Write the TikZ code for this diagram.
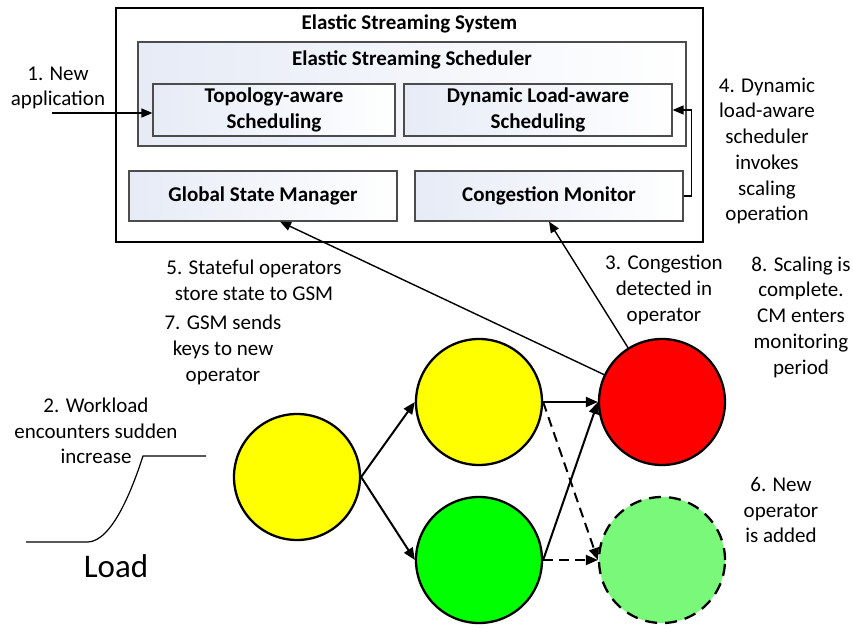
\documentclass[tikz,border=0pt]{standalone}
\usepackage{fontspec}
\setmainfont{Carlito}
\usetikzlibrary{arrows.meta,calc}
\definecolor{boxblue}{RGB}{230,235,246}
\definecolor{opyellow}{RGB}{255,255,0}
\definecolor{opred}{RGB}{255,0,0}
\definecolor{opgreen}{RGB}{0,255,0}
\definecolor{newgreen}{RGB}{122,248,122}
\tikzset{
  lbl/.style={font=\fontsize{21}{25.7}\selectfont,align=center,inner sep=0pt},
  boxlbl/.style={lbl,font=\fontsize{21}{25.7}\selectfont\bfseries},
  panel/.style={draw=black!70,line width=1.2pt,left color=boxblue,right color=white,inner sep=0pt},
  op/.style={circle,draw,line width=2.3pt,minimum size=126pt,inner sep=0pt},
  flow/.style={line width=2pt,-{Triangle[length=12pt,width=10pt]}},
  link/.style={line width=1.4pt,-{Triangle[length=11pt,width=9pt]}},
}

\begin{document}
\begin{tikzpicture}[x=1pt,y=-1pt]
\useasboundingbox (0,0) rectangle (853,628);
% system boxes
\node[draw,line width=1.2pt,minimum width=587pt,minimum height=234pt,inner sep=0pt] (sys) at (409.5,125) {};
\node[boxlbl] (systitle) at (409.5,24) {Elastic Streaming System};
\node[panel,minimum width=548pt,minimum height=104pt] (sched) at (412,94) {};
\node[boxlbl] (schedtitle) at (412,60) {Elastic Streaming Scheduler};
\node[panel,boxlbl,minimum width=242pt,minimum height=52pt] (topo) at (274,110) {Topology-aware\\Scheduling};
\node[panel,boxlbl,minimum width=268pt,minimum height=52pt] (dyn) at (538,110) {Dynamic Load-aware\\Scheduling};
\node[panel,boxlbl,minimum width=268pt,minimum height=50pt] (gsm) at (263,196) {Global State Manager};
\node[panel,boxlbl,minimum width=268pt,minimum height=50pt] (cm) at (549,196) {Congestion Monitor};

\coordinate (newapp) at (52,113);
\draw[link] (newapp) -- (newapp -| topo.west);
\draw[link] (cm.east) -- ++(8,0) |- (dyn.east);

% operators
\node[op,fill=opyellow] (src) at (297,477) {};
\node[op,fill=opyellow] (upper) at (479,402) {};
\node[op,fill=opred] (cong) at (662,402) {};
\node[op,fill=opgreen] (lower) at (479,560) {};
\node[op,fill=newgreen,dash pattern=on 12pt off 8pt] (added) at (662,560) {};

\draw[flow] (src.east) -- (upper.west);
\draw[flow] (src.east) -- (lower.west);
\draw[flow] (upper.east) -- (cong.west);
\draw[flow] (lower.east) -- (cong.west);
\draw[flow,dash pattern=on 10pt off 6pt] (upper.east) -- (added.west);
\draw[flow,dash pattern=on 10pt off 6pt] (lower.east) -- (added.west);

\draw[link] (cong) -- ($(gsm.south)+(17,0)$);
\draw[link] (cong) -- (cm.south);

% load
\draw[line width=1.2pt] (26,542) -- (88,542) .. controls (112,541) and (132,490) .. (143,456) -- (206,456);
\node[font=\fontsize{33}{40}\selectfont,inner sep=0pt] (load) at (116,566) {Load};

% steps
\node[lbl] (step1) at (58,88) {1. New\\application};
\node[lbl] (step2) at (96,431) {2. Workload\\encounters sudden\\increase};
\node[lbl] (step3) at (664,290) {3. Congestion\\detected in\\operator};
\node[lbl] (step4) at (767,151) {4. Dynamic\\load-aware\\scheduler\\invokes\\scaling\\operation};
\node[lbl] (step5) at (254,280) {5. Stateful operators\\store state to GSM};
\node[lbl] (step6) at (781,510) {6. New\\operator\\is added};
\node[lbl] (step7) at (223,350) {7. GSM sends\\keys to new\\operator};
\node[lbl] (step8) at (801,317) {8. Scaling is\\complete.\\CM enters\\monitoring\\period};
\end{tikzpicture}
\end{document}
